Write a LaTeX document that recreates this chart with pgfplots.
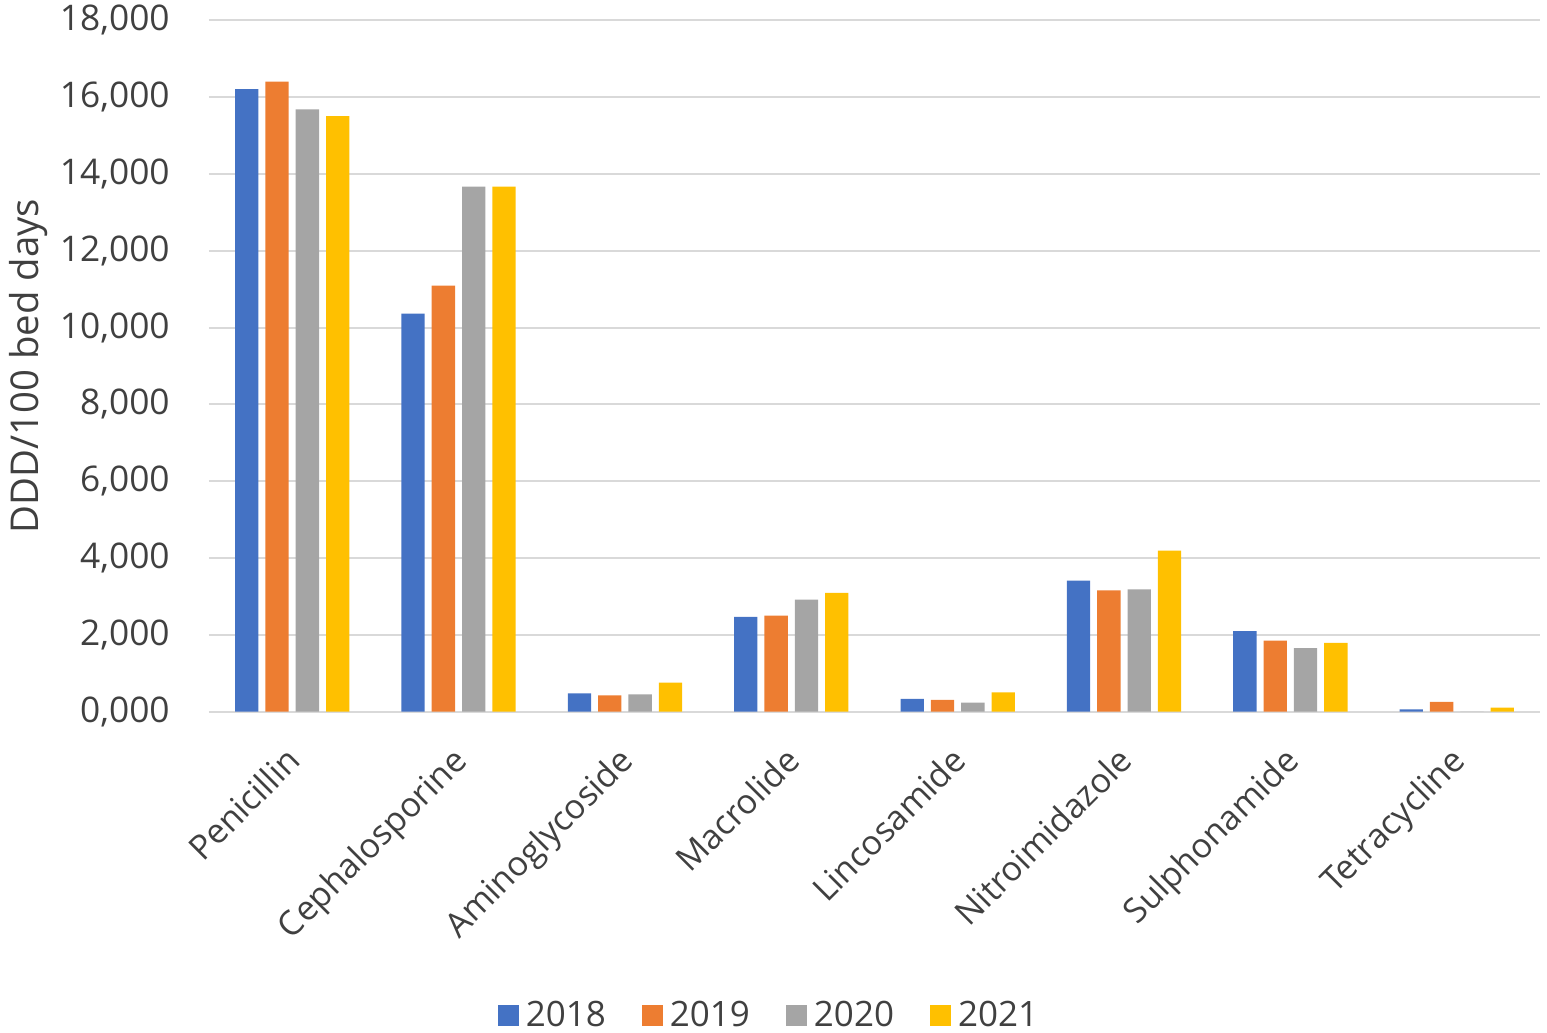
\documentclass[border=0pt]{standalone}
\usepackage{fontspec}
\setmainfont{Open Sans}
\usepackage{pgfplots}
\pgfplotsset{compat=1.18}
\definecolor{c18}{HTML}{4472C4}
\definecolor{c19}{HTML}{ED7D31}
\definecolor{c20}{HTML}{A5A5A5}
\definecolor{c21}{HTML}{FFC000}
\definecolor{txt}{HTML}{404040}
\definecolor{gridc}{HTML}{D9D9D9}
\newcommand{\lblfont}{\fontsize{10.5pt}{12.6pt}\selectfont}
\newcommand{\ytfont}{\fontsize{10.6pt}{12.7pt}\selectfont}
\newcommand{\xlblfont}{\fontsize{10.2pt}{12.2pt}\selectfont}
\newcommand{\ylblfont}{\fontsize{11.5pt}{13.8pt}\selectfont}
\begin{document}
\begin{tikzpicture}
\begin{axis}[
  at={(0,0)}, anchor=south west,
  scale only axis, width=399.3pt, height=207.4pt,
  xmin=-0.5, xmax=7.5, ymin=0, ymax=18000,
  ybar=2.1pt, bar width=7pt,
  axis line style={draw=none},
  tick style={draw=none},
  xtick={0,1,2,3,4,5,6,7},
  xticklabels={Penicillin,Cephalosporine,Aminoglycoside,Macrolide,Lincosamide,Nitroimidazole,Sulphonamide,Tetracycline},
  ytick={0,2000,4000,6000,8000,10000,12000,14000,16000,18000},
  yticklabels={\mbox{0,000},\mbox{2,000},\mbox{4,000},\mbox{6,000},\mbox{8,000},\mbox{10,000},\mbox{12,000},\mbox{14,000},\mbox{16,000},\mbox{18,000}},
  ymajorgrids, major grid style={draw=gridc, line width=0.6pt},
  yticklabel style={font=\ytfont, text=txt, anchor=east, inner sep=0pt, xshift=-11.6pt},
  xticklabel style={font=\xlblfont, text=txt, inner sep=0pt, xshift=-2.4pt, yshift=-5.4pt, rotate=45, anchor=north east},
  ylabel={DDD/100 bed days},
  ylabel style={font=\ylblfont, text=txt, at={(axis description cs:-0.1355,0.5)}, anchor=center},
  legend style={at={(0.4226,-0.44)}, anchor=center, draw=none, fill=none,
    font=\lblfont, text=txt, legend columns=4,
    /tikz/every even column/.append style={column sep=8.9pt}},
  legend image code/.code={\fill[#1] (0pt,-3.15pt) rectangle (6.3pt,3.15pt);},
]
\addplot[fill=c18, draw=none] coordinates {(0,16208) (1,10365) (2,479) (3,2466) (4,331) (5,3411) (6,2094) (7,62)};
\addplot[fill=c19, draw=none] coordinates {(0,16401) (1,11094) (2,427) (3,2500) (4,305) (5,3161) (6,1849) (7,253)};
\addplot[fill=c20, draw=none] coordinates {(0,15680) (1,13670) (2,453) (3,2917) (4,234) (5,3187) (6,1651) (7,0)};
\addplot[fill=c21, draw=none] coordinates {(0,15505) (1,13670) (2,755) (3,3091) (4,505) (5,4193) (6,1789) (7,104)};
\legend{2018,2019,2020,2021}
\end{axis}
\pgfresetboundingbox
\path (-62.7pt,-96.4pt) rectangle (401.4pt,213.5pt);
\end{tikzpicture}
\end{document}
